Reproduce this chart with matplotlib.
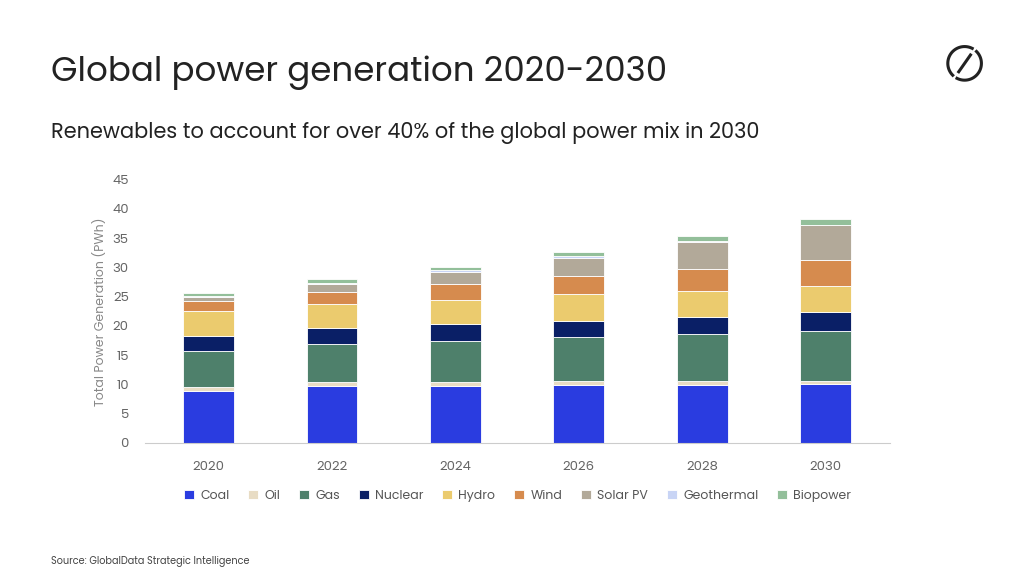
import matplotlib.pyplot as plt
import numpy as np

plt.rcParams['font.family'] = ['Poppins', 'Inter', 'DejaVu Sans']

years = ["2020", "2022", "2024", "2026", "2028", "2030"]
# cumulative tops (PWh)
coal_top = [8.8, 9.8, 9.8, 9.9, 9.9, 10.0]
oil_top = [9.5, 10.4, 10.4, 10.6, 10.6, 10.6]
gas_top = [15.8, 17.0, 17.5, 18.1, 18.7, 19.2]
nuclear_top = [18.3, 19.6, 20.4, 20.8, 21.6, 22.3]
hydro_top = [22.5, 23.7, 24.5, 25.4, 26.0, 26.9]
wind_top = [24.2, 25.8, 27.2, 28.5, 29.8, 31.2]
solar_top = [25.0, 27.1, 29.3, 31.7, 34.3, 37.2]
geo_top = [25.2, 27.3, 29.5, 31.9, 34.5, 37.3]
bio_top = [25.6, 28.0, 30.1, 32.6, 35.3, 38.2]

names = ["Coal", "Oil", "Gas", "Nuclear", "Hydro", "Wind", "Solar PV", "Geothermal", "Biopower"]
tops = [coal_top, oil_top, gas_top, nuclear_top, hydro_top, wind_top, solar_top, geo_top, bio_top]
colors = ["#2a3ce0", "#e8dcc4", "#4e806b", "#0a1f66", "#ebcb6e", "#d68b4e", "#b2a999", "#c8d4f5", "#93bf9a"]

fig = plt.figure(figsize=(10.24, 5.76), dpi=100)
ax = fig.add_axes([0.142, 0.231, 0.727, 0.457])

x = np.arange(len(years))
prev = np.zeros(len(years))
for name, top, c in zip(names, tops, colors):
    top = np.array(top)
    ax.bar(x, top - prev, bottom=prev, width=0.41, color=c, label=name,
           edgecolor="white", linewidth=0.6)
    prev = top

ax.set_ylim(0, 45)
ax.set_yticks(range(0, 46, 5))
ax.set_xlim(-0.51, len(years) - 0.48)
ax.set_xticks(x)
ax.set_xticklabels(years)
ax.tick_params(length=0, colors="#666666", labelsize=9.5, pad=13)
ax.tick_params(axis="y", pad=12)
for s in ["top", "right", "left"]:
    ax.spines[s].set_visible(False)
ax.spines["bottom"].set_color("#cccccc")
ax.set_ylabel("Total Power Generation (PWh)", color="#888888", fontsize=9)

ax.legend(loc="upper center", bbox_to_anchor=(0.5, -0.135), ncol=9, frameon=False,
          fontsize=9, handlelength=0.8, handleheight=0.8, columnspacing=1.5,
          handletextpad=0.5, labelcolor="#555555")

fig.text(0.05, 0.86, "Global power generation 2020-2030", fontsize=24.5, color="#222222")
fig.text(0.05, 0.76, "Renewables to account for over 40% of the global power mix in 2030",
         fontsize=15, color="#222222")
fig.text(0.05, 0.02, "Source: GlobalData Strategic Intelligence", fontsize=7, color="#444444")

# logo
lax = fig.add_axes([0.922, 0.855, 0.04, 0.07])
lax.set_aspect("equal")
lax.axis("off")
t = np.linspace(0.35 * np.pi, 1.25 * np.pi, 50)
lax.plot(np.cos(t), np.sin(t), color="#222222", lw=2.2)
t2 = t + np.pi
lax.plot(np.cos(t2), np.sin(t2), color="#222222", lw=2.2)
lax.plot([-0.35, 0.35], [-0.5, 0.5], color="#222222", lw=2.2)
lax.set_xlim(-1.2, 1.2)
lax.set_ylim(-1.2, 1.2)

fig.savefig("out.png", dpi=100)
